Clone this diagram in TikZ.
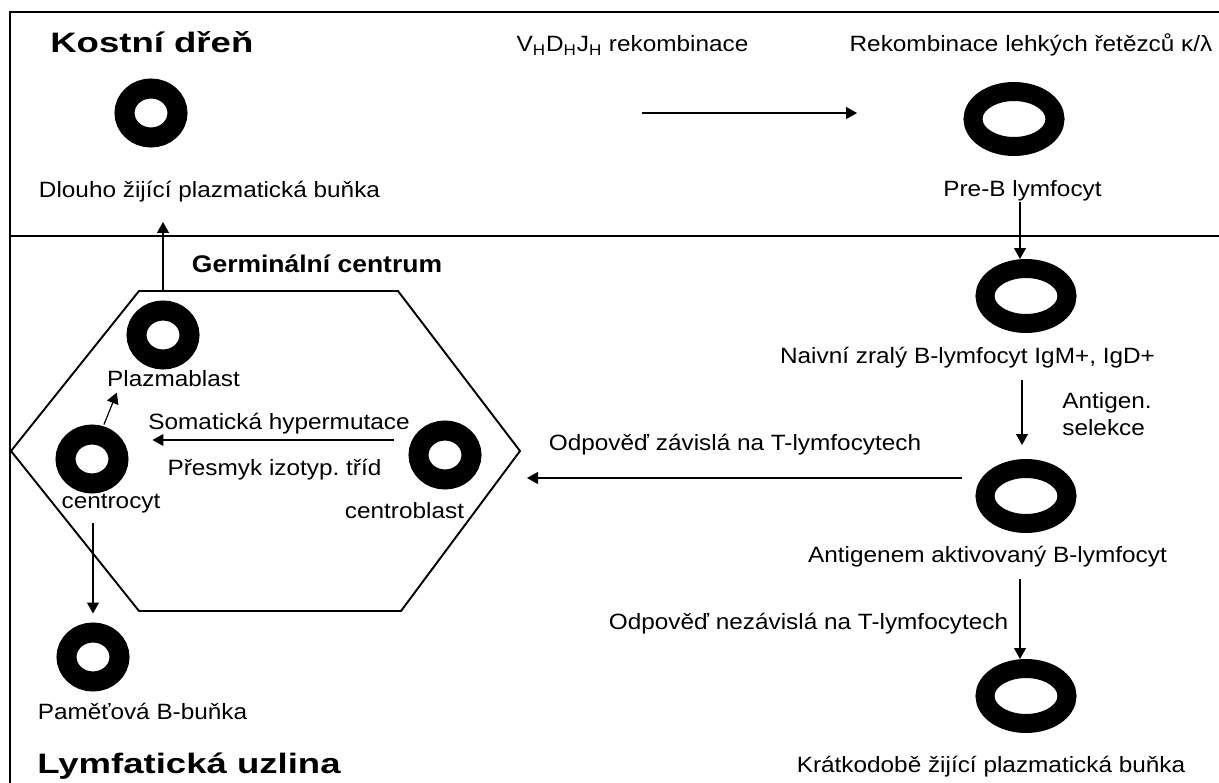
\documentclass[tikz,border=0pt]{standalone}
\usepackage{fontspec}
\setmainfont{Liberation Sans}[FakeStretch=1.1]
\newfontfamily\titlefont{Liberation Sans}[FakeStretch=1.3]
\usetikzlibrary{shapes.geometric,arrows.meta}
\begin{document}
\begin{tikzpicture}[x=0.02cm,y=-0.02cm,
        cellS/.style={ellipse,draw,line width=0.4cm,minimum width=1.06cm,minimum height=0.98cm,inner sep=0pt},
        cellL/.style={ellipse,draw,line width=0.38cm,minimum width=1.64cm,minimum height=1.1cm,inner sep=0pt},
        txt/.style={anchor=base,inner sep=0pt,font=\fontsize{12.6}{15.3}\selectfont},
        ttl/.style={anchor=base west,inner sep=0pt,font=\titlefont\bfseries\fontsize{16}{19}\selectfont},
        arr/.style={line width=0.7pt,-{Triangle[length=0.22cm,width=0.24cm]}}]
                \useasboundingbox (0,0) rectangle (1219,783);
                %% frame
                \draw[line width=0.8pt] (10,783) -- (10,12) -- (1219,12);
                \draw[line width=0.8pt] (10,236) -- (1219,236);
                %% germinal centre
                \coordinate (gcA) at (139,291);
                \coordinate (gcB) at (398,291);
                \coordinate (gcC) at (520,451);
                \coordinate (gcD) at (401,611);
                \coordinate (gcE) at (139,611);
                \coordinate (gcF) at (11,451);
                \draw[line width=1.1pt] (gcA) -- (gcB) -- (gcC) -- (gcD) -- (gcE) -- (gcF) -- cycle;
                %% cells
                \node[cellS] (longpc) at (151,113) {};
                \node[cellL] (preb) at (1014,119) {};
                \node[cellL] (naive) at (1026,296) {};
                \node[cellL] (actb) at (1026,496) {};
                \node[cellL] (shortpc) at (1026,696) {};
                \node[cellS] (pblast) at (163,335) {};
                \node[cellS] (ccyte) at (92,459) {};
                \node[cellS] (cblast) at (445,455) {};
                \node[cellS] (memb) at (93,657) {};
                %% titles
                \node[ttl] (marrow) at (50,53) {Kostní dřeň};
                \node[ttl] (node) at (37,773) {Lymfatická uzlina};
                \node[txt,font=\bfseries\fontsize{13.7}{16}\selectfont] (gctitle) at (317,273) {Germinální centrum};
                %% labels
                \node[txt] (longtxt) at (209.5,198) {Dlouho žijící plazmatická buňka};
                \node[txt] (vdjtxt) at (632.5,52) {V\textsubscript{H}D\textsubscript{H}J\textsubscript{H} rekombinace};
                \node[txt] (lighttxt) at (1031,52) {Rekombinace lehkých řetězců κ/λ};
                \node[txt] (prebtxt) at (1022.5,197) {Pre-B lymfocyt};
                \node[txt] (naivetxt) at (967.5,363) {Naivní zralý B-lymfocyt IgM+, IgD+};
                \node[txt,anchor=base west,align=left] (seltxt) at (1062,435) {Antigen.\\selekce};
                \node[txt] (tdeptxt) at (735,450) {Odpověď závislá na T-lymfocytech};
                \node[txt] (acttxt) at (987.5,562) {Antigenem aktivovaný B-lymfocyt};
                \node[txt] (tindtxt) at (808.5,629) {Odpověď nezávislá na T-lymfocytech};
                \node[txt] (shorttxt) at (991,772) {Krátkodobě žijící plazmatická buňka};
                \node[txt] (pbtxt) at (173.5,386) {Plazmablast};
                \node[txt] (shmtxt) at (279,429) {Somatická hypermutace};
                \node[txt] (isotxt) at (274.5,475) {Přesmyk izotyp.\ tříd};
                \node[txt] (cctxt) at (111,508) {centrocyt};
                \node[txt] (cbtxt) at (404.5,518) {centroblast};
                \node[txt] (memtxt) at (142.5,719) {Paměťová B-buňka};
                %% arrows
                \coordinate (vdjA) at (642,113);
                \coordinate (vdjB) at (857,113);
                \draw[arr] (vdjA) -- (vdjB);
                \coordinate (prebA) at (1020,202);
                \draw[arr] (prebA) -- (prebA |- naive.north);
                \coordinate (selA) at (1022,380);
                \draw[arr,shorten >=0.28cm] (selA) -- (selA |- actb.north);
                \coordinate (indA) at (1020,579);
                \draw[arr] (indA) -- (indA |- shortpc.north);
                \coordinate (tdepB) at (527,478);
                \draw[arr,shorten <=0.27cm] (actb.west |- tdepB) -- (tdepB);
                \draw[arr] ([shift={(-15,-15)}]cblast.west) -- ([shift={(24,-19)}]ccyte.east);
                \draw[arr] ([shift={(12,0)}]ccyte.north) -- ([shift={(10,6)}]pbtxt.south west);
                \draw[arr,shorten <=0.2cm,shorten >=0.18cm] (memb.north |- cctxt.south) -- (memb.north);
                \draw[arr,shorten >=0.38cm] (pblast.north |- gcA) -- (pblast.north |- longtxt.south);
            \end{tikzpicture}
\end{document}
